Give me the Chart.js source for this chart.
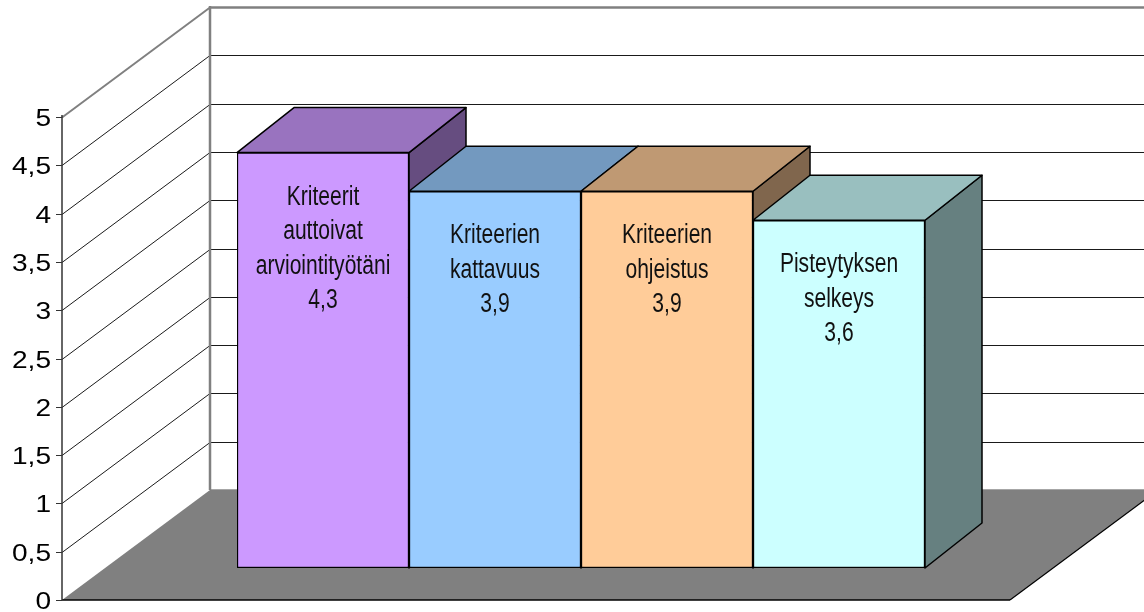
<!DOCTYPE html>
<html><head><meta charset="utf-8">
<script src="https://cdn.jsdelivr.net/npm/chart.js@4.4.1/dist/chart.umd.min.js"></script>
<style>html,body{margin:0;padding:0;background:#fff;overflow:hidden}</style>
</head><body>
<canvas id="c" width="1144" height="612"></canvas>
<script>
// data
const categories = [['Kriteerit','auttoivat','arviointityötäni'], ['Kriteerien','kattavuus'], ['Kriteerien','ohjeistus'], ['Pisteytyksen','selkeys']];
const values = [4.3, 3.9, 3.9, 3.6];
const yTicks = [0, 0.5, 1, 1.5, 2, 2.5, 3, 3.5, 4, 4.5, 5];
const frontColors = ['#CC99FF', '#99CCFF', '#FFCC99', '#CCFFFF'];
const topColors = ['#9973BF', '#7399BF', '#BF9973', '#99BFBF'];
const sideColors = ['#664D80', '#4D6680', '#80664D', '#668080'];

// 3d offsets, relative to the plane of the bar fronts
const DEPTH = {x: 57, y: -45}, FRONT = {x: -43, y: 32}, BACK = {x: 105, y: -78};
const FONT = '"Liberation Sans", Arial, sans-serif';
const fmt = v => v.toFixed(1).replace('.', ',').replace(',0', '');

function line(ctx, x1, y1, x2, y2, color, w) {
    ctx.beginPath(); ctx.moveTo(x1, y1); ctx.lineTo(x2, y2);
    ctx.strokeStyle = color; ctx.lineWidth = w; ctx.stroke();
}
function poly(ctx, pts, fill, stroke) {
    ctx.beginPath(); ctx.moveTo(pts[0][0], pts[0][1]);
    pts.slice(1).forEach(p => ctx.lineTo(p[0], p[1]));
    ctx.closePath(); ctx.fillStyle = fill; ctx.fill();
    if (stroke) { ctx.strokeStyle = stroke; ctx.lineWidth = 1.5; ctx.lineJoin = 'round'; ctx.stroke(); }
}

const box3d = {
    id: 'box3d',
    beforeDatasetsDraw(chart) {
        const {ctx, chartArea: a, scales: {y}} = chart;
        const W = chart.width;
        const y0 = y.getPixelForValue(0), y5 = y.getPixelForValue(5);
        const lx = a.left - 132, rx = a.right + 128;
        ctx.save();
        // floor
        poly(ctx, [[lx + FRONT.x, y0 + FRONT.y], [rx + FRONT.x, y0 + FRONT.y], [rx + BACK.x, y0 + BACK.y], [lx + BACK.x, y0 + BACK.y]], '#808080');
        line(ctx, lx + BACK.x, y0 + BACK.y - 0.5, W, y0 + BACK.y - 0.5, '#a6a6a6', 1);
        line(ctx, lx + FRONT.x, y0 + FRONT.y, rx + FRONT.x, y0 + FRONT.y, '#000', 1.5);
        line(ctx, rx + FRONT.x, y0 + FRONT.y, rx + BACK.x, y0 + BACK.y, '#000', 1.2);
        // walls gridlines
        yTicks.forEach(v => {
            if (v === 0) return;
            const p = Math.round(y.getPixelForValue(v)) + 0.5;
            const top = v === 5;
            line(ctx, lx + BACK.x, p + BACK.y, W, p + BACK.y, top ? '#808080' : '#1a1a1a', top ? 2.5 : 1);
            line(ctx, lx + FRONT.x, p + FRONT.y, lx + BACK.x, p + BACK.y, top ? '#808080' : '#1a1a1a', top ? 2 : 1);
        });
        line(ctx, lx + BACK.x, y5 + BACK.y - 1, lx + BACK.x, y0 + BACK.y, '#808080', 2.5);
        // front value axis
        const ax = lx + FRONT.x;
        line(ctx, ax, y5 + FRONT.y - 2, ax, y0 + FRONT.y, '#333', 1.5);
        ctx.font = '24px ' + FONT; ctx.fillStyle = '#000'; ctx.textAlign = 'right'; ctx.textBaseline = 'alphabetic';
        yTicks.forEach(v => {
            const p = Math.round(y.getPixelForValue(v)) + FRONT.y + 0.5;
            line(ctx, ax - 6, p, ax, p, '#333', 1);
            ctx.save(); ctx.translate(ax - 11, p + 8.5); ctx.scale(1.17, 1);
            ctx.fillText(fmt(v), 0, 0); ctx.restore();
        });
        // bar sides and tops, left to right
        chart.getDatasetMeta(0).data.forEach((bar, i) => {
            const {x, y: t, base, width} = bar.getProps(['x', 'y', 'base', 'width'], true);
            const L = x - width / 2, R = x + width / 2;
            poly(ctx, [[R, t], [R + DEPTH.x, t + DEPTH.y], [R + DEPTH.x, base + DEPTH.y], [R, base]], sideColors[i], '#000');
            poly(ctx, [[L, t], [L + DEPTH.x, t + DEPTH.y], [R + DEPTH.x, t + DEPTH.y], [R, t]], topColors[i], '#000');
        });
        ctx.restore();
    },
    afterDatasetsDraw(chart) {
        const {ctx} = chart;
        ctx.save();
        ctx.font = '27px ' + FONT; ctx.fillStyle = '#111'; ctx.textAlign = 'center'; ctx.textBaseline = 'alphabetic';
        chart.getDatasetMeta(0).data.forEach((bar, i) => {
            const lines = categories[i].concat([fmt(values[i])]);
            lines.forEach((s, k) => {
                ctx.save(); ctx.translate(bar.x, bar.y + 52 + k * 34.5); ctx.scale(0.78, 1);
                ctx.fillText(s, 0, 0); ctx.restore();
            });
        });
        ctx.restore();
    }
};

new Chart(document.getElementById('c'), {
    type: 'bar',
    data: {
        labels: categories.map(c => c.join(' ')),
        datasets: [{ data: values, backgroundColor: frontColors, borderColor: '#000', borderWidth: 1.5, borderSkipped: false, barPercentage: 1, categoryPercentage: 1 }]
    },
    options: {
        responsive: false, animation: false, devicePixelRatio: 1,
        layout: { padding: { left: 237, right: 219, top: 85, bottom: 44 } },
        scales: { x: { display: false }, y: { display: false, min: 0, max: 5 } },
        plugins: { legend: { display: false }, tooltip: { enabled: false } }
    },
    plugins: [box3d]
});
</script>
</body></html>
